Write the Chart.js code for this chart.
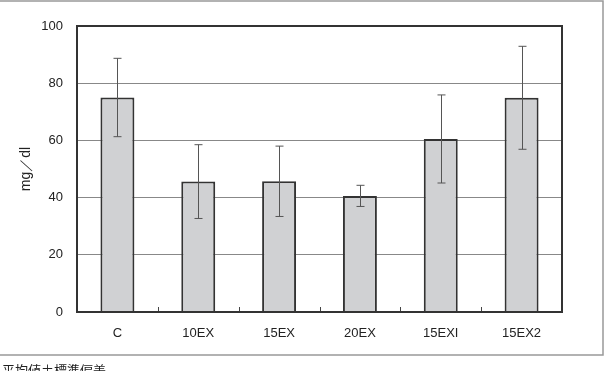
<!DOCTYPE html>
<html lang="ja">
<head>
  <meta charset="UTF-8" />
  <title>mg/dl</title>
  <script src="https://cdn.jsdelivr.net/npm/chart.js"></script>
  <style>
    html, body { margin: 0; padding: 0; background: #fff; overflow: hidden; }
    .wrap { position: relative; width: 614px; height: 371px; }
    .note {
      position: absolute; left: 2px; top: 360px;
      font: 13px "Noto Sans CJK JP", sans-serif; color: #222; white-space: nowrap;
    }
  </style>
</head>
<body>
  <div class="wrap">
    <canvas id="chart" width="614" height="371"></canvas>
    <div class="note">平均値±標準偏差</div>
  </div>

  <script>
    const labels = ['C', '10EX', '15EX', '20EX', '15EXI', '15EX2'];
    const means = [75, 45.6, 45.7, 40.6, 60.5, 74.9];
    const sds = [13.7, 12.9, 12.3, 3.7, 15.4, 18];
    const yTicks = [0, 20, 40, 60, 80, 100];

    // frame, plot border, inner tick marks and error bars
    const extras = {
      id: 'extras',
      afterDatasetsDraw(chart) {
        const { ctx, chartArea: a, scales: { x, y } } = chart;
        ctx.save();

        // error bars
        ctx.strokeStyle = '#555';
        ctx.lineWidth = 1;
        means.forEach((m, i) => {
          const px = Math.round(x.getPixelForValue(i)) + 0.5;
          const top = y.getPixelForValue(m + sds[i]);
          const bot = y.getPixelForValue(m - sds[i]);
          ctx.beginPath();
          ctx.moveTo(px, top); ctx.lineTo(px, bot);
          ctx.moveTo(px - 4, top); ctx.lineTo(px + 4, top);
          ctx.moveTo(px - 4, bot); ctx.lineTo(px + 4, bot);
          ctx.stroke();
        });

        // small ticks between categories
        ctx.strokeStyle = '#444';
        for (let i = 1; i < labels.length; i++) {
          const px = Math.round((x.getPixelForValue(i - 1) + x.getPixelForValue(i)) / 2) + 0.5;
          ctx.beginPath();
          ctx.moveTo(px, a.bottom); ctx.lineTo(px, a.bottom - 5);
          ctx.stroke();
        }

        // plot border
        ctx.strokeStyle = '#333';
        ctx.lineWidth = 2;
        ctx.strokeRect(a.left, a.top, a.right - a.left, a.bottom - a.top);

        // outer frame
        ctx.strokeStyle = '#999';
        ctx.lineWidth = 1.5;
        ctx.beginPath();
        ctx.moveTo(0, 1); ctx.lineTo(603, 1); ctx.lineTo(603, 355); ctx.lineTo(0, 355);
        ctx.stroke();
        ctx.restore();
      }
    };

    new Chart(document.getElementById('chart'), {
      type: 'bar',
      data: {
        labels: labels,
        datasets: [{
          data: means,
          backgroundColor: '#d0d1d3',
          borderColor: '#333',
          borderWidth: 2,
          barPercentage: 0.42,
          categoryPercentage: 1
        }]
      },
      options: {
        responsive: false,
        animation: false,
        layout: { padding: { left: 0, top: 26, right: 52, bottom: 0 } },
        plugins: { legend: { display: false }, tooltip: { enabled: false } },
        scales: {
          x: {
            grid: { display: false, drawTicks: false },
            border: { display: false },
            ticks: { padding: 14, color: '#222', font: { family: 'Liberation Sans', size: 13 } },
            afterFit: s => { s.height = 59; }
          },
          y: {
            min: 0,
            max: 100,
            afterBuildTicks: s => { s.ticks = yTicks.map(v => ({ value: v })); },
            grid: { color: '#888', lineWidth: 1, drawTicks: false },
            border: { display: false },
            ticks: { padding: 14, color: '#222', font: { family: 'Liberation Sans', size: 13 } },
            title: {
              display: true,
              text: 'mg／dl',
              color: '#222',
              font: { family: 'Liberation Sans', size: 14 },
              padding: { top: 18, bottom: 0 }
            },
            afterFit: s => { s.width = 77; }
          }
        }
      },
      plugins: [extras]
    });
  </script>
</body>
</html>
